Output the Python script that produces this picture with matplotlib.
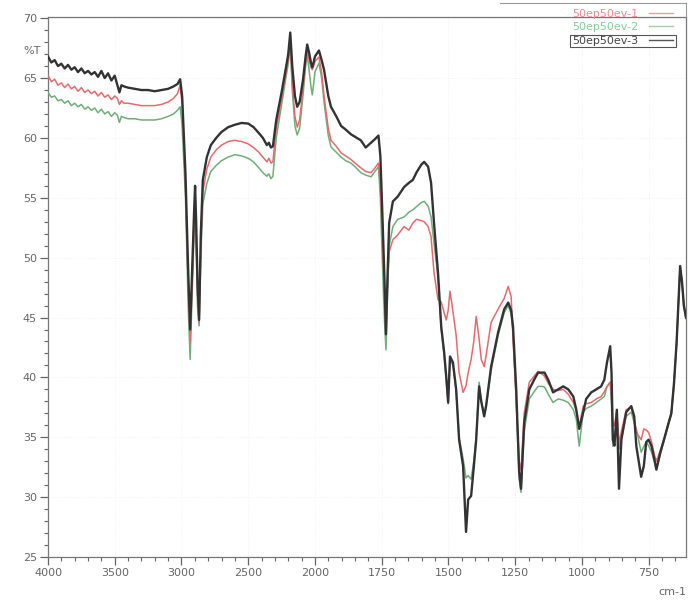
import numpy as np
import matplotlib
matplotlib.use("Agg")
import matplotlib.pyplot as plt
from matplotlib.ticker import FixedLocator, NullFormatter
from matplotlib.lines import Line2D
from matplotlib.patches import Rectangle

# ---------------- data ----------------
wavenumber = [
    4000, 3975, 3950, 3925, 3900, 3875, 3850, 3825, 3800, 3775, 3750, 3725, 3700, 3675, 3650, 3625, 3600, 3575, 3550, 3525, 3500,
    3480, 3465, 3450, 3430, 3400, 3350, 3300, 3250, 3200, 3150, 3100, 3060, 3030, 3010,
    2995, 2970, 2950, 2935, 2920, 2905, 2898, 2890, 2880, 2868, 2855, 2840, 2810, 2780, 2740, 2700, 2650, 2600, 2550, 2500,
    2460, 2420, 2390, 2360, 2345, 2330, 2315,
    2290, 2250, 2215, 2200, 2185, 2170, 2150, 2133, 2115, 2090, 2070, 2058, 2045, 2030, 2020, 2010, 2000, 1985, 1975, 1966,
    1950, 1940, 1920, 1902, 1885, 1865, 1850, 1828, 1810, 1790, 1775, 1762,
    1755, 1748, 1740, 1734, 1728, 1722, 1708, 1690, 1666, 1648, 1633, 1620, 1602, 1591, 1576, 1565, 1554, 1539, 1527, 1516,
    1508, 1501, 1494, 1483, 1471, 1460, 1445, 1434, 1426, 1415, 1405, 1396, 1385, 1377, 1366, 1359, 1340, 1314, 1291, 1276,
    1265, 1258, 1246, 1235, 1228, 1216, 1197,
    1179, 1164, 1150, 1140, 1126, 1108, 1089, 1070, 1051, 1032, 1021, 1010, 995, 984, 965, 946, 928, 916, 906, 894,
    889, 884, 878, 869, 861, 852, 834, 815, 804, 796, 778, 768, 759, 750, 739, 729, 721, 706, 690, 679,
    665, 655, 645, 638, 632, 625, 618, 610,
]

ev1 = [  # 50ep50ev-1 (red)
    65.2, 64.7, 64.9, 64.4, 64.6, 64.2, 64.5, 64.1, 64.3, 63.9, 64.2, 63.8, 64.0, 63.7, 63.9, 63.5, 63.8, 63.4, 63.6, 63.2, 63.5,
    63.3, 62.8, 63.1, 62.9, 62.9, 62.8, 62.7, 62.7, 62.7, 62.8, 63.0, 63.3, 63.7, 64.4,
    62.8, 56.0, 48.0, 43.0, 48.0, 53.0, 55.3, 52.0, 47.0, 44.6, 51.0, 55.5, 57.4, 58.4, 59.0, 59.4, 59.7, 59.8, 59.7, 59.5,
    59.2, 58.8, 58.4, 58.0, 58.3, 57.9, 58.0,
    60.8, 63.2, 65.5, 66.5, 68.2, 64.5, 61.8, 60.9, 61.5, 64.0, 66.3, 67.3, 66.6, 65.9, 65.7, 66.0, 66.4, 66.75, 65.5, 63.5,
    60.8, 59.8, 59.3, 58.75, 58.5, 58.2, 57.9, 57.5, 57.2, 57.1, 57.5, 57.9,
    56.0, 52.0, 47.5, 44.0, 48.0, 50.5, 51.5, 51.9, 52.6, 52.3, 52.9, 53.2, 53.1, 53.0, 52.6, 51.75, 48.75, 46.5, 46.3, 45.4,
    44.8, 45.6, 47.2, 45.5, 43.5, 40.4, 38.75, 39.3, 40.4, 41.5, 43.0, 45.1, 43.2, 41.5, 40.9, 41.8, 44.6, 45.7, 46.6, 47.6,
    46.75, 43.2, 38.0, 33.0, 32.3, 37.0, 39.6,
    40.1, 40.5, 40.3, 40.1, 39.5, 39.0, 38.9, 39.0, 38.6, 37.9, 37.2, 35.9, 37.6, 37.8, 37.9, 38.2, 38.4, 38.8, 39.25, 39.6,
    38.5, 35.9, 36.0, 37.3, 34.5, 35.5, 37.3, 37.5, 36.5, 35.4, 34.8, 35.7, 35.6, 35.4, 34.6, 33.6, 33.0, 33.9, 35.0, 35.9,
    37.0, 39.5, 43.0, 46.5, 49.3, 48.0, 46.0, 45.0,
]

ev2 = [  # 50ep50ev-2 (green)
    63.8, 63.4, 63.5, 63.1, 63.2, 62.9, 63.1, 62.7, 62.9, 62.6, 62.8, 62.4, 62.6, 62.3, 62.5, 62.1, 62.4, 62.0, 62.2, 61.8, 62.1,
    61.9, 61.3, 61.8, 61.7, 61.6, 61.6, 61.5, 61.5, 61.5, 61.6, 61.8, 62.0, 62.3, 62.6,
    61.0, 55.0, 46.0, 41.5, 47.0, 52.0, 54.5, 51.0, 46.0, 44.3, 50.0, 54.5, 56.2, 57.2, 57.7, 58.1, 58.4, 58.6, 58.5, 58.3,
    58.0, 57.5, 57.1, 56.8, 57.0, 56.6, 56.8,
    60.0, 62.8, 65.2, 66.2, 67.9, 64.0, 61.0, 60.25, 60.8, 63.5, 66.0, 66.9, 65.8, 64.3, 63.6, 64.5, 65.5, 66.25, 65.0, 63.0,
    60.2, 59.25, 58.8, 58.4, 58.1, 57.9, 57.6, 57.1, 56.9, 56.75, 57.2, 57.6,
    55.0, 50.0, 45.0, 42.3, 47.0, 51.0, 52.6, 53.2, 53.4, 53.8, 54.0, 54.25, 54.6, 54.7, 54.3, 53.4, 51.2, 48.4, 44.0, 41.8,
    39.8, 37.8, 41.5, 41.0, 38.8, 35.0, 33.2, 31.6, 31.8, 31.5, 33.0, 35.0, 39.6, 38.0, 36.9, 37.5, 40.6, 43.5, 45.4, 46.0,
    45.3, 43.8, 38.0, 31.5, 30.4, 35.5, 38.2,
    38.8, 39.25, 39.25, 39.2, 38.6, 37.9, 38.2, 38.1, 37.9, 37.3, 36.5, 34.25, 37.1, 37.4, 37.6, 37.9, 38.2, 38.4, 39.2, 39.6,
    37.5, 34.25, 35.0, 36.5, 34.0, 35.0, 36.75, 37.1, 36.2, 35.7, 33.75, 34.25, 34.6, 34.3, 33.75, 33.0, 32.3, 33.6, 34.9, 35.8,
    36.9, 39.4, 42.9, 46.4, 49.2, 47.9, 45.9, 44.9,
]

ev3 = [  # 50ep50ev-3 (black)
    66.8, 66.3, 66.5, 66.0, 66.2, 65.8, 66.1, 65.7, 65.9, 65.5, 65.8, 65.4, 65.6, 65.3, 65.5, 65.1, 65.6, 65.0, 65.4, 64.8, 65.2,
    64.4, 63.8, 64.4, 64.3, 64.2, 64.1, 64.0, 64.0, 63.9, 64.0, 64.1, 64.3, 64.5, 64.9,
    63.5, 57.0, 49.0, 44.0, 49.0, 54.0, 56.0, 53.0, 48.0, 44.8, 52.0, 56.5, 58.4, 59.4, 60.0, 60.5, 60.9, 61.1, 61.25, 61.2,
    60.9, 60.4, 60.0, 59.4, 59.6, 59.2, 59.3,
    61.5, 63.8, 66.0, 67.0, 68.8, 66.0, 63.5, 62.6, 63.0, 64.8, 66.8, 67.8, 67.2, 66.3, 65.9, 66.3, 66.8, 67.3, 66.5, 65.7,
    63.5, 62.6, 61.8, 61.0, 60.7, 60.3, 60.1, 59.8, 59.2, 59.6, 59.9, 60.2,
    58.5, 54.0, 48.5, 43.6, 48.5, 52.9, 54.7, 55.1, 55.9, 56.25, 56.5, 57.1, 57.75, 58.0, 57.6, 56.25, 52.9, 48.75, 44.25, 42.1,
    40.0, 37.9, 41.75, 41.25, 39.0, 34.8, 32.6, 27.1, 29.8, 30.1, 32.5, 34.8, 39.25, 38.0, 36.75, 37.6, 40.9, 43.75, 45.7, 46.25,
    45.6, 44.25, 39.0, 32.1, 30.7, 36.25, 39.0,
    39.8, 40.4, 40.4, 40.4, 39.8, 38.75, 39.0, 39.25, 39.0, 38.4, 37.3, 35.7, 37.1, 38.2, 38.75, 39.0, 39.25, 39.8, 41.25, 42.6,
    40.4, 34.8, 34.3, 37.3, 30.7, 34.8, 37.1, 37.6, 36.75, 34.25, 31.7, 32.6, 34.6, 34.8, 34.25, 33.2, 32.3, 33.75, 35.0, 35.9,
    37.0, 39.5, 43.0, 46.5, 49.3, 48.0, 46.0, 45.0,
]

series_labels = ["50ep50ev-1", "50ep50ev-2", "50ep50ev-3"]
x_major = [4000, 3500, 3000, 2500, 2000, 1750, 1500, 1250, 1000, 750]
y_major = [25, 30, 35, 40, 45, 50, 55, 60, 65, 70]

# ---------------- figure ----------------
W, H = 689, 601
fig = plt.figure(figsize=(W / 100, H / 100), dpi=100)
ax = fig.add_axes([48 / W, 1 - 557 / H, (686 - 48) / W, (557 - 17) / H])


def fwd(w):
    w = np.asarray(w, dtype=float)
    return np.where(w >= 2000, 8 + (w - 2000) / 500.0, w / 250.0)


def inv(u):
    u = np.asarray(u, dtype=float)
    return np.where(u >= 8, 2000 + (u - 8) * 500.0, u * 250.0)


ax.set_xscale("function", functions=(fwd, inv))

c_red = "#e56a6f"
c_green = "#6fae78"
c_black = "#333333"

l2, = ax.plot(wavenumber, ev2, color=c_green, lw=1.1, label=series_labels[1], zorder=3)
l1, = ax.plot(wavenumber, ev1, color=c_red, lw=1.1, label=series_labels[0], zorder=4)
l3, = ax.plot(wavenumber, ev3, color=c_black, lw=1.7, label=series_labels[2], zorder=5)

ax.set_xlim(4000, 610)
ax.set_ylim(25, 70.1)

minor_x = list(range(4000, 2000, -100)) + list(range(2000, 600, -50))
ax.xaxis.set_major_locator(FixedLocator(x_major))
ax.xaxis.set_minor_locator(FixedLocator(minor_x))
ax.xaxis.set_minor_formatter(NullFormatter())
ax.set_xticklabels([str(v) for v in x_major])
ax.yaxis.set_major_locator(FixedLocator(y_major))
ax.yaxis.set_minor_locator(FixedLocator(list(range(25, 71))))
ax.yaxis.set_minor_formatter(NullFormatter())

tick_col = "#666666"
ax.tick_params(axis="both", which="major", direction="out", length=6, width=0.9,
               colors=tick_col, labelsize=8, labelcolor="#666666", pad=2)
ax.tick_params(axis="both", which="minor", direction="out", length=3, width=0.8, colors=tick_col)
for s in ax.spines.values():
    s.set_color("#777777")
    s.set_linewidth(0.9)

ax.grid(True, which="major", color="#f0f0f0", lw=0.6, ls=":")
ax.set_axisbelow(True)

# %T label near the y axis
ax.text(-0.012, 67.3, "%T", transform=ax.get_yaxis_transform(), ha="right", va="center",
        fontsize=8, color="#666666")
# unit label
fig.text(686 / W, 1 - 592 / H, "cm-1", ha="right", va="center", fontsize=8, color="#666666")

# legend
leg = fig.legend(handles=[l1, l2, l3], labels=series_labels, loc="upper right",
                 bbox_to_anchor=(682 / W, 1.0), frameon=False, fontsize=8,
                 markerfirst=False, handlelength=2.2, handletextpad=0.9,
                 labelspacing=0.3, borderpad=0.3)
for txt, col in zip(leg.get_texts(), ["#f08a8f", "#8cc894", "#444444"]):
    txt.set_color(col)
for h, col in zip(leg.legend_handles, ["#e0a0a0", "#a8d0a8", "#555555"]):
    h.set_color(col)
    h.set_linewidth(1.0)

# frame line at top of legend area
fig.add_artist(Line2D([500 / W, 686 / W], [1 - 3 / H, 1 - 3 / H], color="#999999", lw=0.8))
fig.add_artist(Line2D([686 / W, 686 / W], [1 - 3 / H, 1 - 17 / H], color="#999999", lw=0.8))

# selection box around third legend entry
fig.canvas.draw()
r = fig.canvas.get_renderer()
tb = leg.get_texts()[2].get_window_extent(r)
hb = leg.legend_handles[2].get_window_extent(r)
x0 = min(tb.x0, hb.x0) - 3
x1 = max(tb.x1, hb.x1) + 3
y0 = tb.y0 - 1
y1 = tb.y1 + 1
inv_fig = fig.transFigure.inverted()
(fx0, fy0) = inv_fig.transform((x0, y0))
(fx1, fy1) = inv_fig.transform((x1, y1))
fig.add_artist(Rectangle((fx0, fy0), fx1 - fx0, fy1 - fy0, transform=fig.transFigure,
                         fill=False, edgecolor="#555555", lw=0.8))

fig.savefig("out.png", dpi=100)
